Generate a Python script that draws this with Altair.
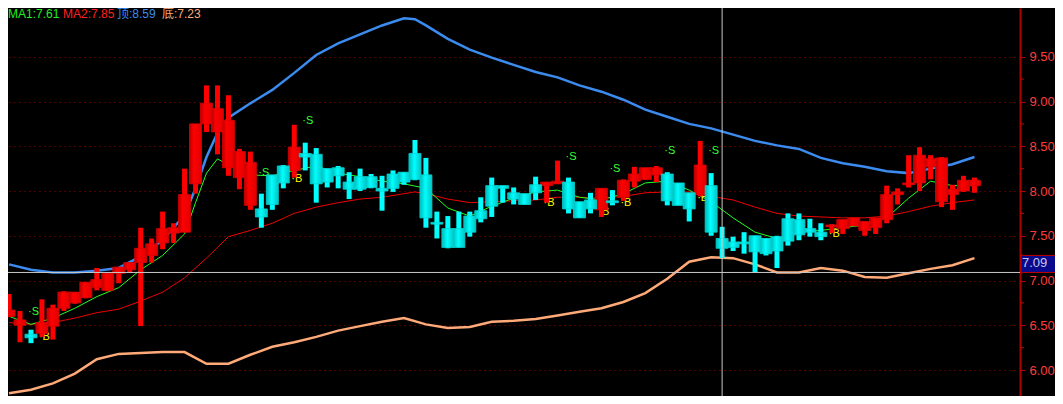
import altair as alt
import pandas as pd

# ---------------- data ----------------
opens = [6.60, 6.50, 6.40, 6.41, 6.49, 6.69, 6.75, 6.81, 6.92, 6.89,
         7.08, 7.12, 7.20, 7.28, 7.42, 7.53, 7.54, 8.08, 8.75, 8.66,
         8.26, 8.15, 7.84, 7.80, 8.18, 8.28, 8.23, 8.42, 8.41, 8.25,
         8.26, 8.10, 8.16, 8.16, 8.03, 8.19, 8.21, 8.42, 8.18, 7.65,
         7.58, 7.58, 7.72, 7.78, 8.06, 8.06, 7.98, 7.97, 8.07, 8.06,
         8.08, 8.10, 7.88, 7.90, 7.79, 7.89, 7.93, 8.11, 8.13, 8.18,
         8.19, 8.09, 7.98, 7.96, 8.06, 7.47, 7.43, 7.43, 7.50, 7.47,
         7.49, 7.69, 7.68, 7.58, 7.54, 7.60, 7.58, 7.61, 7.56, 7.59,
         7.68, 7.96, 8.07, 8.09, 8.27, 7.88, 7.96, 8.00, 8.06]
highs = [6.85, 6.66, 6.45, 6.79, 6.73, 6.88, 6.87, 6.98, 7.14, 7.09,
         7.15, 7.20, 7.59, 7.47, 7.77, 7.64, 8.25, 8.75, 9.18, 9.18,
         9.07, 8.47, 8.44, 7.97, 8.18, 8.29, 8.74, 8.54, 8.48, 8.25,
         8.28, 8.21, 8.25, 8.19, 8.17, 8.23, 8.21, 8.57, 8.37, 7.77,
         7.72, 7.77, 7.77, 7.93, 8.15, 8.06, 8.04, 7.97, 8.16, 8.10,
         8.34, 8.15, 7.88, 7.98, 8.03, 8.01, 8.13, 8.27, 8.26, 8.28,
         8.21, 8.09, 7.98, 8.56, 8.20, 7.60, 7.49, 7.54, 7.50, 7.47,
         7.50, 7.75, 7.75, 7.69, 7.64, 7.63, 7.68, 7.70, 7.66, 7.70,
         8.06, 8.03, 8.40, 8.49, 8.40, 8.38, 8.07, 8.17, 8.15]
lows = [6.59, 6.31, 6.30, 6.37, 6.34, 6.66, 6.74, 6.80, 6.89, 6.88,
        6.97, 7.09, 6.49, 7.20, 7.35, 7.42, 7.54, 7.97, 8.66, 8.41,
        8.17, 8.02, 7.79, 7.59, 7.79, 8.03, 8.15, 8.23, 7.87, 8.04,
        8.03, 7.91, 8.00, 8.03, 7.78, 7.99, 8.07, 8.12, 7.59, 7.47,
        7.36, 7.37, 7.49, 7.65, 7.71, 7.87, 7.85, 7.85, 7.90, 7.87,
        8.08, 7.75, 7.70, 7.75, 7.71, 7.84, 7.89, 8.04, 8.13, 8.10,
        7.84, 7.84, 7.66, 7.94, 7.50, 7.25, 7.33, 7.30, 7.09, 7.28,
        7.14, 7.39, 7.45, 7.49, 7.45, 7.53, 7.52, 7.61, 7.50, 7.52,
        7.64, 7.85, 8.04, 8.00, 8.13, 7.82, 7.79, 7.99, 7.98]
closes = [6.67, 6.56, 6.36, 6.53, 6.69, 6.87, 6.87, 6.98, 7.01, 7.08,
          7.15, 7.20, 7.36, 7.41, 7.58, 7.59, 7.96, 8.75, 8.98, 8.92,
          8.79, 8.44, 8.32, 7.71, 7.85, 8.09, 8.49, 8.38, 8.08, 8.10,
          8.17, 8.02, 8.02, 8.04, 8.00, 8.03, 8.10, 8.13, 7.70, 7.63,
          7.37, 7.37, 7.54, 7.69, 7.83, 8.03, 7.91, 7.85, 7.98, 8.10,
          8.11, 7.80, 7.70, 7.80, 8.03, 7.87, 8.12, 8.19, 8.26, 8.26,
          7.89, 7.84, 7.80, 8.29, 7.54, 7.36, 7.37, 7.41, 7.32, 7.30,
          7.33, 7.44, 7.51, 7.54, 7.49, 7.62, 7.68, 7.70, 7.66, 7.70,
          7.96, 7.99, 8.09, 8.40, 8.36, 8.37, 8.02, 8.12, 8.12]

ma1_idx = [0, 2, 4, 6, 8, 10, 12, 14, 16, 17, 18, 19, 20, 22, 24, 26, 28, 30,
           32, 34, 36, 38, 40, 42, 44, 46, 48, 50, 52, 54, 56, 58, 60, 62, 64,
           66, 68, 70, 72, 74, 76, 78, 80, 82, 84, 86, 88]
ma1_val = [6.60, 6.51, 6.58, 6.69, 6.82, 6.92, 7.12, 7.28, 7.52, 7.87, 8.20,
           8.36, 8.29, 8.18, 8.17, 8.23, 8.28, 8.20, 8.16, 8.11, 8.08, 8.03,
           7.81, 7.72, 7.83, 7.92, 7.99, 8.01, 7.93, 7.90, 7.97, 8.09, 8.11,
           8.01, 7.88, 7.70, 7.54, 7.47, 7.54, 7.56, 7.59, 7.62, 7.70, 7.92,
           8.11, 8.06, 8.06]

ma2_idx = [0, 2, 4, 6, 8, 10, 12, 14, 16, 18, 20, 22, 24, 26, 28, 30, 32, 34,
           36, 37, 38, 40, 42, 44, 46, 48, 50, 52, 54, 56, 58, 60, 62, 64, 66,
           68, 70, 72, 74, 76, 78, 80, 82, 84, 86, 88]
ma2_val = [6.53, 6.51, 6.53, 6.58, 6.64, 6.68, 6.77, 6.87, 7.03, 7.25, 7.49,
           7.56, 7.64, 7.75, 7.82, 7.87, 7.91, 7.93, 7.97, 7.99, 7.97, 7.91,
           7.87, 7.88, 7.89, 7.90, 7.93, 7.93, 7.92, 7.94, 7.98, 7.99, 7.99,
           7.94, 7.90, 7.82, 7.75, 7.72, 7.71, 7.70, 7.70, 7.72, 7.77, 7.83,
           7.87, 7.90]

top_idx = [0, 2, 4, 6, 8, 10, 12, 14, 16, 17, 18, 19, 20, 22, 24, 26, 28, 30,
           32, 34, 36, 37, 38, 40, 42, 44, 46, 48, 50, 52, 54, 56, 58, 60, 62,
           64, 66, 68, 70, 72, 74, 76, 78, 80, 82, 84, 86, 88]
top_val = [7.18, 7.12, 7.09, 7.09, 7.11, 7.14, 7.27, 7.45, 7.73, 8.03, 8.38,
           8.65, 8.82, 8.98, 9.13, 9.32, 9.52, 9.65, 9.75, 9.85, 9.93, 9.92,
           9.85, 9.70, 9.58, 9.49, 9.41, 9.33, 9.27, 9.18, 9.11, 9.02, 8.91,
           8.83, 8.75, 8.70, 8.63, 8.56, 8.51, 8.47, 8.37, 8.31, 8.27, 8.22,
           8.20, 8.25, 8.30, 8.38]

bot_idx = list(range(0, 89, 2))
bot_val = [5.74, 5.78, 5.85, 5.96, 6.12, 6.18, 6.19, 6.20, 6.20, 6.07, 6.07,
           6.17, 6.26, 6.31, 6.37, 6.44, 6.49, 6.54, 6.58, 6.51, 6.47, 6.48,
           6.54, 6.55, 6.57, 6.61, 6.65, 6.69, 6.76, 6.86, 7.02, 7.21, 7.26,
           7.25, 7.18, 7.09, 7.09, 7.14, 7.11, 7.04, 7.03, 7.08, 7.13, 7.17,
           7.25]

s_idx = [2, 23, 27, 51, 55, 60, 64]
s_val = [6.65, 8.20, 8.78, 8.38, 8.25, 8.45, 8.45]
b_idx = [3, 26, 49, 54, 56, 63, 75]
b_val = [6.37, 8.13, 7.87, 7.76, 7.87, 7.92, 7.52]

cur_price = [7.09]
cross_idx = [65]
legend_names = ["MA1", "MA2", "顶", "底"]
legend_vals = [7.61, 7.85, 8.59, 7.23]
major_ticks = [6.0, 6.5, 7.0, 7.5, 8.0, 8.5, 9.0, 9.5]
minor_ticks = [6.25, 6.75, 7.25, 7.75, 8.25, 8.75, 9.25]

# ---------------- frames ----------------
candles = pd.DataFrame({"i": list(range(len(opens))), "o": opens, "h": highs,
                        "l": lows, "c": closes})
candles["up"] = candles["c"] >= candles["o"]


def line_df(ix, vals):
    return pd.DataFrame({"i": ix, "v": vals})


XS = alt.Scale(domain=[0.361, 91.697], nice=False, zero=False)
YS = alt.Scale(domain=[5.7095, 10.045], nice=False, zero=False)
xenc = alt.X("i:Q", scale=XS, axis=None)

yaxis = alt.Axis(
    orient="right", values=major_ticks, title=None, format=".2f",
    labelColor="#FF3C3C", labelFont="Liberation Sans", labelFontSize=13,
    labelPadding=4, labelOverlap=False, labelFlush=False,
    tickColor="#C00000", tickSize=5,
    domainColor="#B00000", domainWidth=2,
    grid=True, gridColor="#A00000", gridDash=[1, 4],
)


def yenc(field):
    return alt.Y(field, scale=YS, axis=yaxis)


red_grad = alt.Gradient(gradient="linear", x1=0, x2=1, y1=0, y2=0, stops=[
    alt.GradientStop(offset=0, color="#B80000"),
    alt.GradientStop(offset=0.35, color="#FF0000"),
    alt.GradientStop(offset=1, color="#E00000")])
cyan_grad = alt.Gradient(gradient="linear", x1=0, x2=1, y1=0, y2=0, stops=[
    alt.GradientStop(offset=0, color="#00B8B8"),
    alt.GradientStop(offset=0.45, color="#00FFFF"),
    alt.GradientStop(offset=1, color="#00C4C4")])

minor_layer = alt.Chart(pd.DataFrame({"t": minor_ticks})).mark_rule(
    color="#C00000", strokeWidth=1, clip=False).encode(
    x=alt.value(1013), x2=alt.value(1016), y=yenc("t:Q"))

top_line = alt.Chart(line_df(top_idx, top_val)).mark_line(
    color="#3C8CF0", strokeWidth=2.5, clip=True).encode(x=xenc, y=yenc("v:Q"))
bot_line = alt.Chart(line_df(bot_idx, bot_val)).mark_line(
    color="#FFAA78", strokeWidth=2.5, clip=True).encode(x=xenc, y=yenc("v:Q"))
ma2_line = alt.Chart(line_df(ma2_idx, ma2_val)).mark_line(
    color="#F00000", strokeWidth=1, clip=True).encode(x=xenc, y=yenc("v:Q"))
ma1_line = alt.Chart(line_df(ma1_idx, ma1_val)).mark_line(
    color="#22FF22", strokeWidth=1, clip=True).encode(x=xenc, y=yenc("v:Q"))

s_text = alt.Chart(line_df(s_idx, s_val)).mark_text(
    text="·S", align="left", baseline="middle", dx=-3, color="#33FF33",
    font="Liberation Sans", fontSize=11).encode(x=xenc, y=yenc("v:Q"))
b_text = alt.Chart(line_df(b_idx, b_val)).mark_text(
    text="·B", align="left", baseline="middle", dx=-3, color="#FFFF00",
    font="Liberation Sans", fontSize=11).encode(x=xenc, y=yenc("v:Q"))

base = alt.Chart(candles)
wick_up = base.transform_filter("datum.up").mark_bar(
    size=5, color="#FF0000", clip=True).encode(x=xenc, y=yenc("l:Q"), y2="h:Q")
wick_dn = base.transform_filter("!datum.up").mark_bar(
    size=5, color="#00FFFF", clip=True).encode(x=xenc, y=yenc("l:Q"), y2="h:Q")
body_up = base.transform_filter("datum.up").mark_bar(
    size=12, fill=red_grad, stroke="#E00000", strokeWidth=0.8, clip=True).encode(
    x=xenc, y=yenc("o:Q"), y2="c:Q")
body_dn = base.transform_filter("!datum.up").mark_bar(
    size=12, fill=cyan_grad, stroke="#00D8D8", strokeWidth=0.8, clip=True).encode(
    x=xenc, y=yenc("o:Q"), y2="c:Q")

price_df = pd.DataFrame({"p": cur_price})
price_df["ptop"] = price_df["p"] + 0.19
hline = alt.Chart(price_df).mark_rule(color="#C8C8C8", strokeWidth=1).encode(
    y=yenc("p:Q"))
vline = alt.Chart(pd.DataFrame({"i": cross_idx})).mark_rule(
    color="#C8C8C8", strokeWidth=1).encode(x=xenc)
pbox = alt.Chart(price_df).mark_rect(
    fill="#0A0A8C", stroke="#C00000", strokeWidth=1, clip=False).encode(
    x=alt.value(1013), x2=alt.value(1050), y=yenc("p:Q"), y2="ptop:Q")
ptext = alt.Chart(price_df).mark_text(
    align="left", baseline="bottom", dy=-2, color="#C8C8F0",
    font="Liberation Sans", fontSize=13, clip=False).encode(
    x=alt.value(1014), y=yenc("p:Q"), text=alt.Text("p:Q", format=".2f"))

leg_colors = ["#22EE22", "#FF2020", "#3C8CF0", "#FFAA78"]
leg_x = [0, 55, 109, 154]
legend_layers = []
for k in range(len(legend_names)):
    legend_layers.append(
        alt.Chart(pd.DataFrame({"a": [0]})).mark_text(
            text=f"{legend_names[k]}:{legend_vals[k]:.2f}", align="left",
            baseline="top", color=leg_colors[k],
            font="Liberation Sans, Noto Sans CJK SC", fontSize=12).encode(
            x=alt.value(leg_x[k]), y=alt.value(1)))

chart = alt.layer(
    top_line, bot_line, ma2_line, ma1_line, s_text, b_text,
    wick_up, wick_dn, body_up, body_dn, hline, vline, minor_layer, pbox, ptext,
    *legend_layers
).properties(
    width=1012, height=388,
    padding={"left": 0, "top": 0, "right": 35, "bottom": 0},
    autosize=alt.AutoSizeParams(type="none"),
    background="#000000",
).configure_view(stroke=None)

chart.save("out.html", embed_options={"renderer": "svg", "actions": False})
